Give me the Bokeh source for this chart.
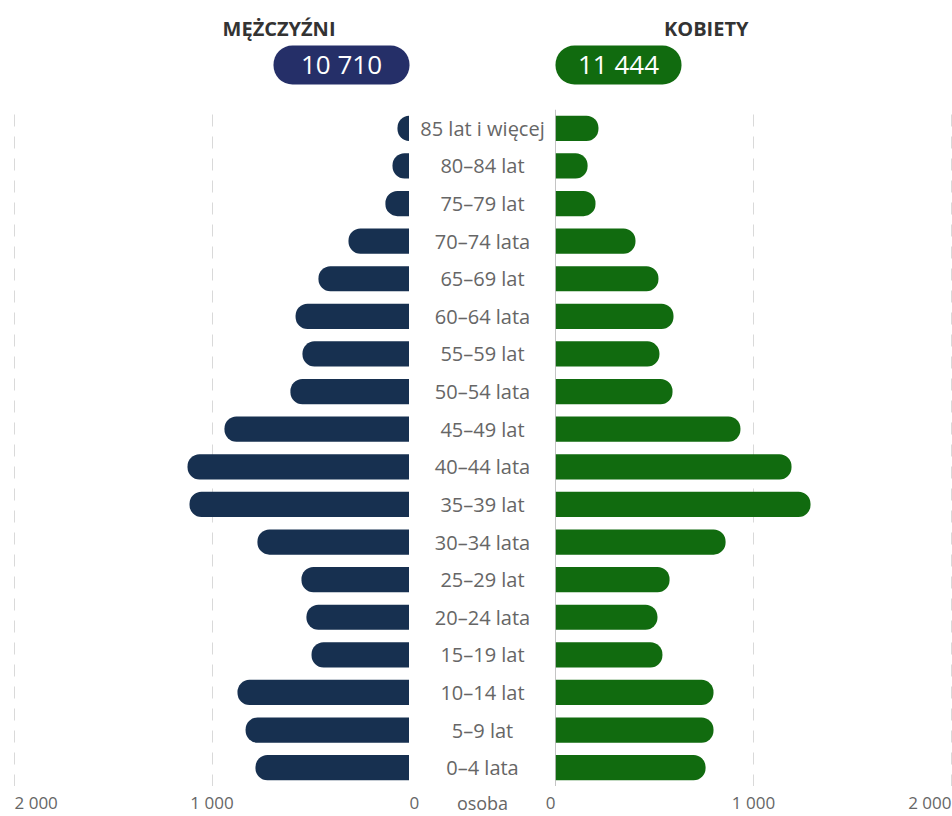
from bokeh.plotting import figure
from bokeh.layouts import column, row
from bokeh.models import Range1d, FactorRange, FixedTicker, Span, ColumnDataSource
from bokeh.core.properties import value
from bokeh.embed import file_html
from bokeh.resources import INLINE

# ---------------- data ----------------
age_groups = ["85 lat i więcej", "80–84 lat", "75–79 lat", "70–74 lata", "65–69 lat",
              "60–64 lata", "55–59 lat", "50–54 lata", "45–49 lat", "40–44 lata",
              "35–39 lat", "30–34 lata", "25–29 lat", "20–24 lata", "15–19 lat",
              "10–14 lat", "5–9 lat", "0–4 lata"]
men = [61, 86, 122, 309, 461, 577, 542, 603, 937, 1124, 1114, 770, 547, 522, 496, 871, 830, 780]
women = [217, 162, 202, 404, 520, 596, 525, 591, 934, 1192, 1288, 859, 576, 515, 540, 798, 798, 758]
men_total = 10710
women_total = 11444
men_title = "MĘŻCZYŹNI"
women_title = "KOBIETY"
axis_ticks = [0, 1000, 2000]
unit_label = "osoba"

# ---------------- style ----------------
FONT = "Open Sans"
MEN_BAR = "#173050"
WOMEN_BAR = "#116b0f"
MEN_PILL = "#252f68"
WOMEN_PILL = "#116b0f"
LABEL_GRAY = "#666666"
GRID_GRAY = "#d9d9d9"
AXIS_GRAY = "#8a8a8a"
HEAD_H = 108
MAIN_H = 678
FOOT_H = 30
W_LEFT, W_CENTER, W_RIGHT = 409, 146, 397
TOTAL_W = W_LEFT + W_CENTER + W_RIGHT
FOOT_PAD = 24  # footer panels reach a bit into the centre column
LEFT_MAX, RIGHT_MAX = 2071, 2005


def fmt(v):
    return f"{v:,}".replace(",", " ")


factors = list(reversed(age_groups))
y_range = FactorRange(factors=factors, range_padding=0)


def bare(width, height, x_range, y_rng):
    p = figure(width=width, height=height, x_range=x_range, y_range=y_rng,
               output_backend="svg", toolbar_location=None, tools="",
               x_axis_location=None, y_axis_location=None,
               min_border=0, min_border_top=0, min_border_bottom=0,
               min_border_left=0, min_border_right=0)
    p.outline_line_color = None
    p.background_fill_color = "white"
    p.border_fill_color = "white"
    p.grid.visible = False
    return p


def main_fig(width, x_range):
    p = bare(width, MAIN_H, x_range, y_range)
    p.min_border_top = 1
    return p


def side_grid(p):
    p.xgrid.visible = True
    p.xgrid.ticker = FixedTicker(ticks=axis_ticks[1:])
    p.xgrid.grid_line_color = GRID_GRAY
    p.xgrid.grid_line_dash = "12 10"
    p.xgrid.grid_line_width = 1
    p.add_layout(Span(location=0, dimension="height", line_color=AXIS_GRAY, line_width=1))


def footer(width, x_range, ticks, labels, aligns, size="17px"):
    f = bare(width, FOOT_H, x_range, Range1d(FOOT_H, 0))
    s = ColumnDataSource(dict(x=ticks, label=labels, align=aligns))
    f.text(x="x", y=16, text="label", text_align="align", source=s,
           text_baseline="middle", text_font=value(FONT), text_font_size=size,
           text_color=LABEL_GRAY)
    return f


src = ColumnDataSource(dict(age=age_groups, men=men, women=women))

# left (men)
x_left = Range1d(LEFT_MAX, 0)
left = main_fig(W_LEFT, x_left)
side_grid(left)
left.hbar(y="age", left=0, right="men", height=0.67, source=src,
          fill_color=MEN_BAR, line_color=None, border_radius=(12, 0, 0, 12))

# center (labels)
center = main_fig(W_CENTER, Range1d(-1, 1))
center.text(x=0, y="age", text="age", source=src, text_align="center",
            text_baseline="middle", text_font=value(FONT), text_font_size="20px",
            text_color=LABEL_GRAY)

# right (women)
x_right = Range1d(0, RIGHT_MAX)
right = main_fig(W_RIGHT, x_right)
side_grid(right)
right.hbar(y="age", left=0, right="women", height=0.67, source=src,
           fill_color=WOMEN_BAR, line_color=None, border_radius=(0, 12, 12, 0))

# tick label rows, same scales as the panels above (slightly wider panels)
tick_labels = [fmt(t) for t in axis_ticks]
s_left = W_LEFT / LEFT_MAX
s_right = W_RIGHT / RIGHT_MAX
fx_left = Range1d(LEFT_MAX, -FOOT_PAD / s_left)
fx_right = Range1d(-FOOT_PAD / s_right, RIGHT_MAX)
foot_left = footer(W_LEFT + FOOT_PAD, fx_left, axis_ticks, tick_labels,
                   ["left", "center", "left"])
foot_center = footer(W_CENTER - 2 * FOOT_PAD, Range1d(-1, 1), [0], [unit_label],
                     ["center"], size="18px")
foot_right = footer(W_RIGHT + FOOT_PAD, fx_right, axis_ticks, tick_labels,
                    ["right", "center", "right"])

# header
head = bare(TOTAL_W, HEAD_H, Range1d(0, TOTAL_W), Range1d(HEAD_H, 0))
head.text(x=[335, 748], y=[28, 28], text=[men_title, women_title], text_align="right",
          text_baseline="middle", text_font=value(FONT), text_font_style="bold",
          text_font_size="20px", text_color="#333333")
head.quad(left=[273, 555], right=[409, 681], top=[45, 45], bottom=[84, 84],
          fill_color=[MEN_PILL, WOMEN_PILL], line_color=None, border_radius=19)
head.text(x=[341, 618], y=[63, 63], text=[fmt(men_total), fmt(women_total)],
          text_align="center", text_baseline="middle", text_font=value(FONT),
          text_font_size="26px", text_color="white")

layout = column(head, row(left, center, right), row(foot_left, foot_center, foot_right))

open("out.html", "w").write(file_html(layout, INLINE))
